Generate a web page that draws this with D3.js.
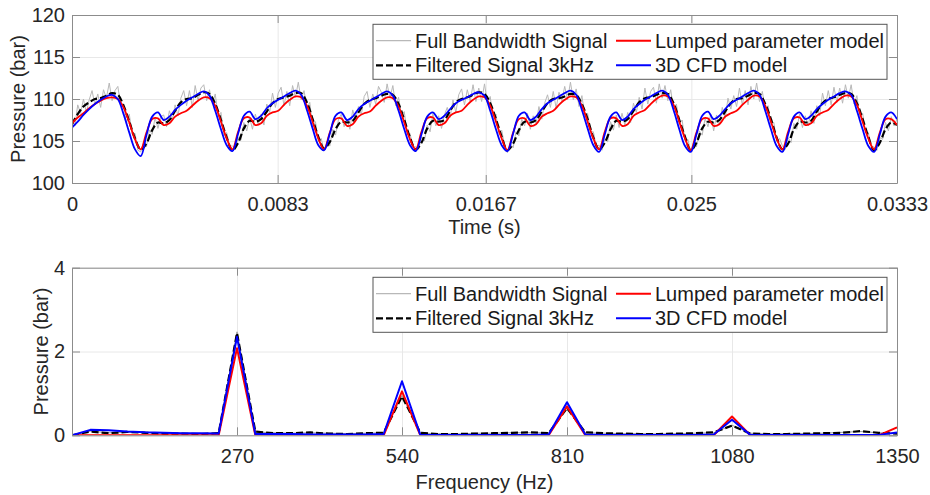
<!DOCTYPE html>
<html><head><meta charset="utf-8">
<script src="https://cdn.jsdelivr.net/npm/d3@7"></script>
<style>
body{margin:0;background:#fff;}
svg{display:block;font-family:"Liberation Sans",Arial,Helvetica,sans-serif;}
</style>
</head><body>
<svg id="c" width="930" height="495"></svg>
<script>
// ---------- DATA ----------
const timeEnd = 0.0333;
const topXTickValues = [0, 0.0083, 0.0167, 0.025, 0.0333];
const topXTickLabels = ["0", "0.0083", "0.0167", "0.025", "0.0333"];
const topYTickValues = [100, 105, 110, 115, 120];
const topYTickLabels = ["100", "105", "110", "115", "120"];
const botXTickValues = [270, 540, 810, 1080, 1350];
const botXTickLabels = ["270", "540", "810", "1080", "1350"];
const botYTickValues = [0, 2, 4];
const botYTickLabels = ["0", "2", "4"];
const legendLabels = ["Full Bandwidth Signal", "Filtered Signal 3kHz", "Lumped parameter model", "3D CFD model"];

// time-domain pressure (bar), sampled uniformly over 0..0.0333 s
const fullSignal = [
107.6,106.8,109.3,108.3,110.0,108.4,109.9,111.0,109.3,110.6,109.0,111.1,110.1,111.9,109.8,111.0,111.5,109.3,109.4,107.1,108.2,105.8,105.9,103.9,
103.7,104.8,104.3,106.3,105.8,107.8,106.5,107.9,108.1,106.7,108.6,107.5,109.3,108.0,110.1,111.0,109.2,111.0,109.0,111.6,109.8,111.3,111.7,109.8,111.1,109.4,110.6,108.0,108.4,105.7,106.0,104.4,
104.4,104.1,105.4,105.1,107.2,106.2,107.8,106.4,108.2,107.0,108.2,106.9,109.4,108.4,110.7,109.0,110.7,111.4,109.2,110.9,109.2,111.6,110.2,112.0,109.9,111.0,108.9,109.6,106.8,107.3,104.9,105.3,
103.8,104.9,104.4,106.4,105.7,107.5,108.2,106.7,107.6,106.4,108.7,107.5,109.1,108.1,110.3,110.9,109.0,110.6,109.4,111.5,110.8,109.6,111.8,110.1,111.6,109.2,110.2,108.1,108.5,105.8,105.9,104.3,
104.3,104.0,105.5,105.0,106.9,106.1,108.3,106.8,108.0,106.5,108.1,109.0,107.8,109.9,108.4,110.5,111.2,109.3,111.1,109.7,111.7,109.7,111.3,109.7,111.8,109.6,110.3,107.6,108.2,105.9,106.3,104.5,
103.6,104.7,104.2,106.1,105.6,107.6,106.8,108.3,106.4,108.0,107.1,109.1,107.6,109.5,110.5,109.0,110.9,108.9,110.8,109.8,111.5,109.9,112.0,109.9,111.2,109.1,110.4,108.0,108.3,106.1,106.1,104.4,
104.5,103.9,105.2,104.9,107.3,106.3,108.1,106.6,108.3,106.9,108.4,107.2,109.5,108.4,110.2,108.8,111.3,109.4,110.9,111.4,109.5,111.8,110.1,111.6,109.8,111.1,108.8,109.4,107.0,107.5,105.0,105.2,
103.7,104.9,104.3,106.2,105.7,107.7,106.7,108.2,106.2,108.1,106.9,109.0,107.7,110.1,108.8,110.4,109.1,111.3,109.3,111.0,109.3,111.5,110.0,111.9,109.7,110.9,108.7,109.2,106.9,107.2,104.9,105.3,
104.4,104.0,105.4,104.8,107.1,106.4,108.2,106.6,108.0,106.8,108.6,107.1,109.2,108.0,110.7,109.2,111.0,109.3,111.4,109.6,111.3,109.5,111.7,110.1,111.7,109.4,110.4,107.8,108.3,106.0,106.0,104.3,
104.3,103.9,105.4,105.2,107.2,106.2,107.9,106.8,107.6
];
const filteredSignal = [
107.0,108.2,109.1,109.6,110.0,110.1,110.4,110.7,110.5,109.2,107.3,105.3,
104.0,104.7,106.3,107.2,107.1,107.5,108.6,109.6,110.0,110.1,110.5,110.8,110.6,109.4,107.5,105.4,
103.9,104.8,106.5,107.4,107.3,107.6,108.5,109.5,110.0,110.2,110.4,110.7,110.7,109.6,107.6,105.5,
104.1,104.9,106.4,107.3,107.2,107.4,108.4,109.4,109.9,110.1,110.4,110.6,110.5,109.4,107.5,105.4,
104.0,104.8,106.5,107.4,107.3,107.5,108.6,109.6,110.0,110.2,110.5,110.8,110.6,109.5,107.6,105.5,
103.9,104.7,106.3,107.3,107.2,107.5,108.5,109.5,110.0,110.1,110.3,110.6,110.5,109.4,107.6,105.4,
104.0,104.8,106.4,107.4,107.3,107.6,108.6,109.6,110.1,110.2,110.5,110.7,110.6,109.5,107.5,105.5,
103.9,104.8,106.5,107.3,107.2,107.5,108.5,109.5,110.0,110.1,110.4,110.7,110.6,109.4,107.6,105.4,
104.0,104.7,106.4,107.3,107.2,107.4,108.5,109.5,110.0,110.2,110.5,110.7,110.6,109.5,107.6,105.5,
103.9,104.8,106.4,107.2,106.9
];
const lumpedModel = [
107.1,107.8,108.3,108.9,109.4,109.8,110.1,110.2,110.0,109.0,107.2,105.2,
104.0,106.0,107.6,107.7,106.9,107.1,107.9,108.3,108.6,109.2,109.8,110.2,110.1,109.2,107.3,105.3,
104.0,106.1,107.7,107.8,106.9,107.1,108.0,108.4,108.6,109.3,109.9,110.3,110.2,109.2,107.3,105.3,
104.0,106.0,107.6,107.7,106.8,107.0,107.9,108.3,108.5,109.2,109.8,110.2,110.1,109.1,107.2,105.2,
104.0,106.1,107.7,107.8,106.9,107.1,108.0,108.4,108.6,109.3,109.9,110.3,110.2,109.2,107.3,105.3,
103.9,106.0,107.6,107.7,106.8,107.0,107.9,108.3,108.6,109.3,109.9,110.3,110.2,109.2,107.3,105.3,
104.0,106.1,107.7,107.7,106.8,107.0,108.0,108.4,108.7,109.4,110.0,110.4,110.3,109.3,107.3,105.3,
103.9,106.0,107.6,107.7,106.8,107.0,107.9,108.3,108.6,109.3,109.9,110.4,110.3,109.2,107.3,105.3,
104.0,106.1,107.7,107.8,106.9,107.1,108.0,108.4,108.7,109.4,110.0,110.4,110.3,109.3,107.3,105.3,
104.0,106.0,107.6,107.6,106.9
];
const cfdModel = [
106.6,107.3,108.1,108.8,109.4,109.9,110.3,110.5,110.0,108.2,106.0,104.0,
103.2,105.7,107.9,108.4,107.5,107.9,108.7,109.3,109.8,110.2,110.6,110.9,110.4,108.6,106.4,104.5,
103.8,105.9,108.0,108.5,107.6,108.0,108.9,109.5,109.9,110.3,110.7,111.0,110.5,108.7,106.5,104.5,
103.9,105.9,108.0,108.4,107.5,107.9,108.8,109.4,109.8,110.2,110.6,110.9,110.4,108.6,106.4,104.5,
103.8,105.8,107.9,108.4,107.6,108.0,108.8,109.5,109.9,110.2,110.6,110.8,110.4,108.6,106.4,104.5,
103.8,105.9,108.0,108.4,107.5,107.9,108.8,109.5,109.9,110.3,110.7,111.0,110.5,108.7,106.5,104.5,
103.7,105.8,107.9,108.4,107.5,107.9,108.8,109.4,109.9,110.3,110.7,111.0,110.5,108.7,106.4,104.4,
103.7,105.8,108.0,108.5,107.6,108.0,108.8,109.5,109.9,110.3,110.7,111.0,110.5,108.6,106.4,104.4,
103.7,105.8,107.9,108.4,107.6,108.0,108.8,109.4,109.9,110.3,110.7,110.9,110.5,108.6,106.4,104.4,
103.7,105.8,107.9,108.4,107.6
];

// spectrum amplitude (bar) at 0, 30, 60 ... 1350 Hz
const freqStep = 30;
const specFull = [0,0.10,0.06,0.07,0.07,0.05,0.04,0.04,0.05,2.47,0.08,0.06,0.05,0.06,0.05,0.04,0.05,0.06,0.95,0.05,0.04,0.03,0.05,0.05,0.06,0.06,0.06,0.66,0.06,0.05,0.04,0.04,0.03,0.04,0.05,0.06,0.24,0.05,0.03,0.04,0.04,0.05,0.07,0.09,0.06,0.05];
const specFiltered = [0,0.09,0.05,0.08,0.06,0.04,0.04,0.03,0.05,2.44,0.09,0.05,0.05,0.07,0.04,0.03,0.05,0.06,0.93,0.06,0.03,0.03,0.04,0.05,0.06,0.07,0.05,0.65,0.07,0.05,0.04,0.03,0.03,0.04,0.05,0.07,0.23,0.04,0.03,0.03,0.04,0.05,0.06,0.10,0.06,0.04];
const specLumped = [0,0,0,0,0,0,0,0,0,2.08,0,0,0,0,0,0,0,0,1.05,0,0,0,0,0,0,0,0,0.69,0,0,0,0,0,0,0,0,0.45,0,0,0,0,0,0,0,0,0.19];
const specCfd = [0,0.13,0.12,0.09,0.07,0.06,0.05,0.05,0.04,2.35,0.03,0.03,0.03,0.02,0.02,0.02,0.02,0.03,1.29,0.01,0.01,0.01,0.01,0.01,0.01,0.01,0.02,0.79,0.02,0.01,0.01,0.01,0.01,0.01,0.01,0.02,0.37,0.01,0.01,0.01,0.01,0.01,0.01,0.01,0.01,0.07];

// ---------- STYLE ----------
const colors = {full:"#b8b8b8", filt:"#000000", lump:"#ff0000", cfd:"#0000ff"};
const boxColor = "#8c8c8c";
const textColor = "#262626";
const gridColor = "#e8e8e8";
const fs = 20;
const dashPat = "7,3";

const svg = d3.select("#c");
const L = 72, R = 897;

function panel(o) {
  const g = svg.append("g");
  const x = o.x, y = o.y;
  const [yb, yt] = y.range();
  // grid
  g.append("g").attr("transform", `translate(0,${yb})`)
    .call(d3.axisBottom(x).tickValues(o.xTicks).tickSize(-(yb - yt)).tickFormat(""))
    .call(s => { s.select(".domain").remove(); s.selectAll("line").attr("stroke", gridColor); });
  g.append("g").attr("transform", `translate(${L},0)`)
    .call(d3.axisLeft(y).tickValues(o.yTicks).tickSize(-(R - L)).tickFormat(""))
    .call(s => { s.select(".domain").remove(); s.selectAll("line").attr("stroke", gridColor); });

  // clip
  const cid = "clip" + o.id;
  svg.append("clipPath").attr("id", cid).append("rect")
    .attr("x", L).attr("y", yt).attr("width", R - L).attr("height", yb - yt);
  const lines = g.append("g").attr("clip-path", `url(#${cid})`);
  o.series.forEach(s => {
    const line = d3.line().x((d, i) => x(s.xs[i])).y(d => y(d)).curve(s.curve || d3.curveLinear);
    lines.append("path").datum(s.values).attr("d", line)
      .attr("fill", "none").attr("stroke", s.color).attr("stroke-width", s.width)
      .attr("stroke-dasharray", s.dash || null).attr("stroke-linejoin", "round");
  });

  // axes (ticks inside)
  const styleAxis = s => {
    s.select(".domain").attr("stroke", boxColor).attr("stroke-width", 1);
    s.selectAll(".tick line").attr("stroke", boxColor);
    s.selectAll(".tick text").attr("fill", textColor).attr("font-size", fs)
      .attr("font-family", '"Liberation Sans",Arial,sans-serif');
  };
  g.append("g").attr("transform", `translate(0,${yb})`)
    .call(d3.axisBottom(x).tickValues(o.xTicks).tickFormat((d, i) => o.xLabels[i])
      .tickSizeInner(-8).tickSizeOuter(0).tickPadding(o.xPad)).call(styleAxis);
  g.append("g").attr("transform", `translate(0,${yt})`)
    .call(d3.axisTop(x).tickValues(o.xTicks).tickFormat("").tickSizeInner(-8).tickSizeOuter(0)).call(styleAxis);
  g.append("g").attr("transform", `translate(${L},0)`)
    .call(d3.axisLeft(y).tickValues(o.yTicks).tickFormat((d, i) => o.yLabels[i])
      .tickSizeInner(-8).tickSizeOuter(0).tickPadding(7)).call(styleAxis);
  g.append("g").attr("transform", `translate(${R},0)`)
    .call(d3.axisRight(y).tickValues(o.yTicks).tickFormat("").tickSizeInner(-8).tickSizeOuter(0)).call(styleAxis);

  // titles
  g.append("text").attr("x", (L + R) / 2).attr("y", o.xTitleY).attr("text-anchor", "middle")
    .attr("font-size", fs).attr("fill", textColor).text(o.xTitle);
  g.append("text").attr("transform", `translate(${o.yTitleX},${(yb + yt) / 2}) rotate(-90)`)
    .attr("text-anchor", "middle").attr("dy", "0.35em")
    .attr("font-size", fs).attr("fill", textColor).text(o.yTitle);

  // legend
  const lg = g.append("g").attr("transform", `translate(373,${o.legY})`);
  lg.append("rect").attr("x", 0).attr("y", 0).attr("width", 514).attr("height", 55)
    .attr("fill", "#fff").attr("stroke", "#555").attr("stroke-width", 1);
  const items = [
    {label: legendLabels[0], color: colors.full, width: 1.2, dash: null, col: 0, row: 0},
    {label: legendLabels[1], color: colors.filt, width: 2.2, dash: dashPat, col: 0, row: 1},
    {label: legendLabels[2], color: colors.lump, width: 2, dash: null, col: 1, row: 0},
    {label: legendLabels[3], color: colors.cfd, width: 2, dash: null, col: 1, row: 1}
  ];
  const colX = [3, 243];
  items.forEach(it => {
    const by = 23.4 + it.row * 24.6;
    lg.append("line").attr("x1", colX[it.col]).attr("x2", colX[it.col] + 35)
      .attr("y1", by - 7).attr("y2", by - 7)
      .attr("stroke", it.color).attr("stroke-width", it.width).attr("stroke-dasharray", it.dash);
    lg.append("text").attr("x", colX[it.col] + 39).attr("y", by)
      .attr("font-size", fs).attr("fill", "#1a1a1a").text(it.label);
  });
}

// ---------- TOP PANEL ----------
const xTop = d3.scaleLinear().domain([0, timeEnd]).range([L, R]);
const yTop = d3.scaleLinear().domain([100, 120]).range([183, 15]);
const tFull = fullSignal.map((d, i) => i * timeEnd / (fullSignal.length - 1));
const tModel = cfdModel.map((d, i) => i * timeEnd / (cfdModel.length - 1));

panel({
  id: "a", x: xTop, y: yTop,
  xTicks: topXTickValues, xLabels: topXTickLabels, yTicks: topYTickValues, yLabels: topYTickLabels,
  xPad: 13.5, xTitle: "Time (s)", xTitleY: 233.5, yTitle: "Pressure (bar)", yTitleX: 18, legY: 24.3,
  series: [
    {xs: tFull, values: fullSignal, color: colors.full, width: 1},
    {xs: tModel, values: filteredSignal, color: colors.filt, width: 2.2, dash: dashPat, curve: d3.curveCatmullRom},
    {xs: tModel, values: lumpedModel, color: colors.lump, width: 1.8, curve: d3.curveCatmullRom},
    {xs: tModel, values: cfdModel, color: colors.cfd, width: 1.8, curve: d3.curveCatmullRom}
  ]
});

// ---------- BOTTOM PANEL ----------
const xBot = d3.scaleLinear().domain([0, 1350]).range([L, R]);
const yBot = d3.scaleLinear().domain([0, 4]).range([435.3, 267.7]);
const freqs = specCfd.map((d, i) => i * freqStep);

panel({
  id: "b", x: xBot, y: yBot,
  xTicks: botXTickValues, xLabels: botXTickLabels, yTicks: botYTickValues, yLabels: botYTickLabels,
  xPad: 14, xTitle: "Frequency (Hz)", xTitleY: 489, yTitle: "Pressure (bar)", yTitleX: 41, legY: 277.3,
  series: [
    {xs: freqs, values: specFull, color: "#9a9a9a", width: 1},
    {xs: freqs, values: specFiltered, color: colors.filt, width: 2.2, dash: dashPat},
    {xs: freqs, values: specLumped, color: colors.lump, width: 2},
    {xs: freqs, values: specCfd, color: colors.cfd, width: 2}
  ]
});
</script>
</body></html>
